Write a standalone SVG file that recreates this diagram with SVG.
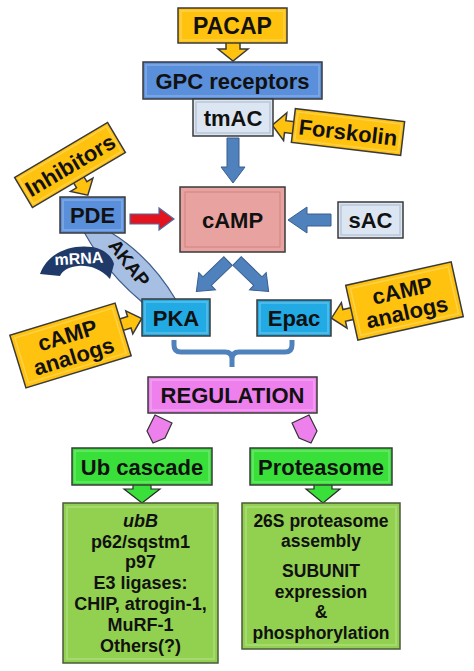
<svg xmlns="http://www.w3.org/2000/svg" width="474" height="671" viewBox="0 0 474 671">
<style>
  text { font-family: "Liberation Sans", Arial, sans-serif; font-weight: bold; fill: #111; text-anchor: middle; }
  .box { stroke: #3a3a3a; stroke-width: 1.5; }
  .inner { fill: none; stroke: #ffffff; stroke-opacity: 0.25; stroke-width: 1.5; }
  .yellow { fill: #FFC20E; stroke: #3a3a3a; stroke-width: 1.5; }
  .blue { fill: #5A8FDB; }
  .light { fill: #DCE6F2; }
  .pink { fill: #E8A29F; }
  .cyan { fill: #22AAE4; }
  .mag { fill: #EE80EE; }
  .green { fill: #3AE03A; }
  .lgreen { fill: #92D050; }
  .barrow { fill: #4F81BD; stroke: #3A5F8E; stroke-width: 1; }
  .garrow { fill: #3AE03A; stroke: #2a2a2a; stroke-width: 1.2; }
  .t22 { font-size: 22px; }
  .t18 { font-size: 18px; }
  .t17 { font-size: 17.5px; }
</style>

<g id="connectors">
  <!-- PACAP -> GPC -->
  <polygon class="yellow" points="226,42 240,42 240,49 248,49 233,61 218,49 226,49"/>
  <!-- tmAC -> cAMP -->
  <polygon class="barrow" points="227,138 239,138 239,167 245,167 233,183 221,167 227,167"/>
  <!-- sAC -> cAMP -->
  <polygon class="barrow" points="331,214 307,214 307,207 288,220 307,233 307,226 331,226"/>
  <!-- PDE -> cAMP (red) -->
  <polygon fill="#E3141E" stroke="#4A6FA5" stroke-width="1.2" points="130,214 159,214 159,208 174,219 159,230 159,224 130,224"/>
  <!-- cAMP -> PKA -->
  <g transform="translate(228,261) rotate(136)">
    <polygon class="barrow" points="0,-6 29,-6 29,-12 44,0 29,12 29,6 0,6"/>
  </g>
  <!-- cAMP -> Epac -->
  <g transform="translate(237,261) rotate(44)">
    <polygon class="barrow" points="0,-6 29,-6 29,-12 44,0 29,12 29,6 0,6"/>
  </g>
  <!-- Forskolin -> tmAC -->
  <g transform="translate(348,132) rotate(6.7)">
    <polygon class="yellow" points="-54,-4 -63,-4 -63,-12 -76,2 -63,16 -63,8 -54,8"/>
  </g>
  <!-- Inhibitors -> PDE -->
  <g transform="translate(70,165) rotate(-30.6)">
    <polygon class="yellow" points="-6,16 6,16 6,23 13,23 0,35 -13,23 -6,23"/>
  </g>
  <!-- cAMP analogs -> PKA -->
  <g transform="translate(70.5,345.5) rotate(-17)">
    <polygon class="yellow" points="54,-11 63,-11 63,-17 76,-5 63,7 63,1 54,1"/>
  </g>
  <!-- cAMP analogs -> Epac -->
  <g transform="translate(404.5,301) rotate(-12.5)">
    <polygon class="yellow" points="-53,-5 -62,-5 -62,-12 -75,1 -62,14 -62,7 -53,7"/>
  </g>
  <!-- bracket PKA/Epac -> REGULATION -->
  <path d="M174 340 L174 345 Q174 352 181 352 L225 352 Q232 352 232 359 L232 367 M232 359 Q232 352 239 352 L285 352 Q292 352 292 345 L292 340" fill="none" stroke="#4F81BD" stroke-width="5"/>
  <!-- REGULATION -> Ub cascade / Proteasome -->
  <polygon class="mag" stroke="#333" stroke-width="1.2" points="147,431 155,415 172,423 165,438 153,443"/>
  <polygon class="mag" stroke="#333" stroke-width="1.2" points="317,431 309,415 292,423 299,438 311,443"/>
  <!-- Ub cascade -> box, Proteasome -> box -->
  <polygon class="garrow" points="133,484 151,484 151,489 160,489 142,503 124,489 133,489"/>
  <polygon class="garrow" points="314,484 332,484 332,489 340,489 323,503 306,489 314,489"/>
</g>

<g id="akap">
  <path d="M84 232 Q106 272 142 302 L176 300 Q150 256 110 232 Z" fill="#A7BFE3" stroke="#3E5C8A" stroke-width="1.2"/>
  <text transform="translate(124,267) rotate(52)" style="font-size:19px">AKAP</text>
</g>

<g id="mrna">
  <path d="M40 274 C48 252 72 244 92 247 C104 249 112 256 114 264 L110 279 C100 268 88 265 78 266 C68 267 62 271 60 276 Z" fill="#1F3A68"/>
  <text x="79" y="264" style="font-size:16px; fill:#ffffff" transform="rotate(-3 79 260)">mRNA</text>
</g>

<g id="pacap">
  <rect class="yellow" x="178" y="8" width="109" height="35"/>
  <rect class="inner" x="181" y="11" width="103" height="29"/>
  <text class="t22" x="232.5" y="33.5" style="font-size:23px">PACAP</text>
</g>

<g id="gpc">
  <rect class="box blue" x="143" y="62" width="179" height="37"/>
  <rect class="inner" x="146" y="65" width="173" height="31"/>
  <text class="t22" x="232.5" y="88.5">GPC receptors</text>
</g>

<g id="tmac">
  <rect class="box light" x="193" y="99" width="80" height="37"/>
  <rect class="inner" x="196" y="102" width="74" height="31" style="stroke:#9fb3cc;stroke-opacity:0.6"/>
  <text class="t22" x="233" y="125.5">tmAC</text>
</g>

<g id="forskolin" transform="translate(348,132) rotate(6.7)">
  <rect class="yellow" x="-55" y="-17" width="110" height="34"/>
  <rect class="inner" x="-52" y="-14" width="104" height="28"/>
  <text class="t22" x="0" y="8">Forskolin</text>
</g>

<g id="inhibitors" transform="translate(70,165) rotate(-30.6)">
  <rect class="yellow" x="-54" y="-17.5" width="108" height="35"/>
  <rect class="inner" x="-51" y="-14.5" width="102" height="29"/>
  <text class="t22" x="0" y="8">Inhibitors</text>
</g>

<g id="pde">
  <rect class="box blue" x="60" y="197" width="65" height="36"/>
  <rect class="inner" x="63" y="200" width="59" height="30"/>
  <text class="t22" x="92.5" y="223">PDE</text>
</g>

<g id="camp">
  <rect class="box pink" x="180" y="187" width="105" height="65"/>
  <rect class="inner" x="185" y="192" width="95" height="55" style="stroke:#b06a66;stroke-opacity:0.5;stroke-width:1"/>
  <text class="t22" x="232.5" y="227.5">cAMP</text>
</g>

<g id="sac">
  <rect class="box light" x="338" y="202" width="65" height="36"/>
  <rect class="inner" x="341" y="205" width="59" height="30" style="stroke:#9fb3cc;stroke-opacity:0.6"/>
  <text class="t22" x="370.5" y="228">sAC</text>
</g>

<g id="pka">
  <rect class="box cyan" x="142" y="299" width="68" height="37"/>
  <rect class="inner" x="145" y="302" width="62" height="31"/>
  <text class="t22" x="176" y="325.5">PKA</text>
</g>

<g id="epac">
  <rect class="box cyan" x="257" y="300" width="74" height="36"/>
  <rect class="inner" x="260" y="303" width="68" height="30"/>
  <text class="t22" x="294" y="326">Epac</text>
</g>

<g id="analogs-left" transform="translate(70.5,345.5) rotate(-17)">
  <rect class="yellow" x="-55" y="-27.5" width="110" height="55"/>
  <rect class="inner" x="-51" y="-23.5" width="102" height="47"/>
  <text class="t22" x="0" y="-3">cAMP</text>
  <text class="t22" x="0" y="19">analogs</text>
</g>

<g id="analogs-right" transform="translate(404.5,301) rotate(-12.5)">
  <rect class="yellow" x="-54" y="-28" width="108" height="56"/>
  <rect class="inner" x="-50" y="-24" width="100" height="48"/>
  <text class="t22" x="0" y="-3">cAMP</text>
  <text class="t22" x="0" y="19">analogs</text>
</g>

<g id="regulation">
  <rect class="box mag" x="148" y="377" width="169" height="36"/>
  <rect class="inner" x="151" y="380" width="163" height="30"/>
  <text class="t22" x="232.5" y="403">REGULATION</text>
</g>

<g id="ub-cascade">
  <rect class="box green" x="72" y="448" width="140" height="37"/>
  <rect class="inner" x="75" y="451" width="134" height="31"/>
  <text class="t22" x="142" y="474.5">Ub cascade</text>
</g>

<g id="proteasome">
  <rect class="box green" x="250" y="448" width="142" height="37"/>
  <rect class="inner" x="253" y="451" width="136" height="31"/>
  <text class="t22" x="321" y="474.5">Proteasome</text>
</g>

<g id="ub-targets">
  <rect class="box lgreen" x="63" y="503" width="155" height="160" style="stroke:#4a5a3a"/>
  <rect class="inner" x="67" y="507" width="147" height="152"/>
  <text class="t18" x="140.5" y="527" font-style="italic">ubB</text>
  <text class="t18" x="140.5" y="548">p62/sqstm1</text>
  <text class="t18" x="140.5" y="568">p97</text>
  <text class="t18" x="140.5" y="589">E3 ligases:</text>
  <text class="t18" x="140.5" y="610">CHIP, atrogin-1,</text>
  <text class="t18" x="140.5" y="631">MuRF-1</text>
  <text class="t18" x="140.5" y="652">Others(?)</text>
</g>

<g id="proteasome-targets">
  <rect class="box lgreen" x="242" y="503" width="158" height="146" style="stroke:#4a5a3a"/>
  <rect class="inner" x="246" y="507" width="150" height="138"/>
  <text class="t17" x="321" y="527">26S proteasome</text>
  <text class="t17" x="321" y="547">assembly</text>
  <text class="t17" x="321" y="577">SUBUNIT</text>
  <text class="t17" x="321" y="598">expression</text>
  <text class="t17" x="321" y="618">&amp;</text>
  <text class="t17" x="321" y="639">phosphorylation</text>
</g>
</svg>
